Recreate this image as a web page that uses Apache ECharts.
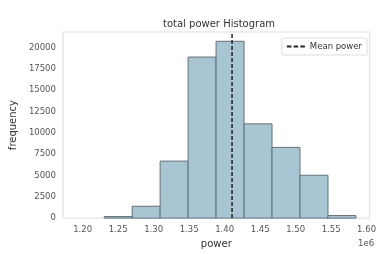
<!DOCTYPE html>
<html>
<head>
<meta charset="utf-8">
<script src="https://cdn.jsdelivr.net/npm/echarts@6/dist/echarts.min.js"></script>
<style>html,body{margin:0;padding:0;background:#fff;}#c{width:379px;height:254px;}</style>
</head>
<body>
<div id="c"></div>
<script>
// Histogram bin edges (power, units of 1e6)
const binEdges = [1.1910, 1.2304, 1.2698, 1.3092, 1.3486, 1.3880, 1.4274, 1.4668, 1.5062, 1.5456, 1.5850];
// Counts per bin
const counts = [0, 180, 1390, 6690, 18900, 20750, 11060, 8300, 5030, 300];
// Mean power (1e6 units)
const meanPower = 1.4105;
// Tick labels
const xTicks = [1.20, 1.25, 1.30, 1.35, 1.40, 1.45, 1.50, 1.55, 1.60];
const yTicks = [0, 2500, 5000, 7500, 10000, 12500, 15000, 17500, 20000];

const xMin = 1.1723, xMax = 1.6044, yMax = 21840;

const barData = counts.map((c, i) => [binEdges[i], binEdges[i + 1], c]);

const chart = echarts.init(document.getElementById('c'), null, {renderer: 'canvas'});
const font = 'DejaVu Sans';
chart.setOption({
  animation: false,
  backgroundColor: '#fff',
  title: {
    text: 'total power Histogram',
    left: 214, top: 14, textAlign: 'center',
    textStyle: {fontFamily: font, fontSize: 10, fontWeight: 'normal', color: '#333'}
  },
  legend: {
    data: [{name: 'Mean power', icon: 'path://M0,0h5v2h-5z M7.5,0h5v2h-5z M15,0h5v2h-5z'}],
    right: 12, top: 38,
    itemWidth: 18, itemHeight: 2, itemGap: 4,
    padding: [4, 5, 4, 5],
    borderColor: '#ddd', borderWidth: 1, borderRadius: 2,
    backgroundColor: '#fff',
    textStyle: {fontFamily: font, fontSize: 8.5, color: '#333'}
  },
  grid: {left: 58, right: 9, top: 32, bottom: 32.5, show: true, borderColor: '#ddd', borderWidth: 1, backgroundColor: 'transparent'},
  xAxis: {
    type: 'value', min: xMin, max: xMax,
    name: 'power', nameLocation: 'middle', nameGap: 19,
    nameTextStyle: {fontFamily: font, fontSize: 10, color: '#333'},
    axisLine: {show: false}, axisTick: {show: false}, splitLine: {show: false},
    axisLabel: {
      customValues: xTicks, margin: 7,
      fontFamily: font, fontSize: 8.5, color: '#555',
      formatter: v => v.toFixed(2)
    }
  },
  yAxis: {
    type: 'value', min: 0, max: yMax,
    name: 'frequency', nameLocation: 'middle', nameGap: 42, nameRotate: 90,
    nameTextStyle: {fontFamily: font, fontSize: 10, color: '#333'},
    axisLine: {show: false}, axisTick: {show: false}, splitLine: {show: false},
    axisLabel: {
      customValues: yTicks, margin: 7,
      fontFamily: font, fontSize: 8.5, color: '#555',
      formatter: v => String(Math.round(v))
    }
  },
  graphic: [{
    type: 'text', left: 358, top: 239,
    style: {text: '1e6', fontFamily: font, fontSize: 8.5, fill: '#555'}
  }],
  series: [{
    type: 'custom',
    name: 'hist',
    data: barData,
    encode: {x: [0, 1], y: 2},
    renderItem: function (params, api) {
      if (api.value(2) <= 0) return null;
      const p0 = api.coord([api.value(0), 0]);
      const p1 = api.coord([api.value(1), api.value(2)]);
      return {
        type: 'rect',
        shape: {x: p0[0], y: p1[1], width: p1[0] - p0[0], height: p0[1] - p1[1]},
        style: {fill: '#a8c5d4', stroke: '#62727b', lineWidth: 1}
      };
    },
    z: 2
  }, {
    type: 'line',
    name: 'Mean power',
    data: [[meanPower, 0], [meanPower, yMax]],
    symbol: 'none',
    lineStyle: {color: '#222', width: 1.5, type: [4, 2]},
    itemStyle: {color: '#222'},
    z: 3
  }]
});
</script>
</body>
</html>
